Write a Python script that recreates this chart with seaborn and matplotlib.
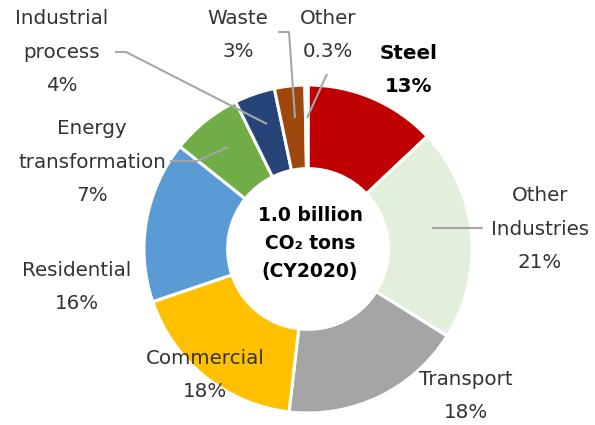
import matplotlib
matplotlib.use("Agg")
import matplotlib.pyplot as plt
import seaborn as sns

# Japan CO2 emissions by sector, CY2020 (share of 1.0 billion tons)
sectors = ["Steel", "Other\nIndustries", "Transport", "Commercial", "Residential",
           "Energy\ntransformation", "Industrial\nprocess", "Waste", "Other"]
shares = [13, 21, 18, 18, 16, 7, 4, 3, 0.3]
share_labels = ["13%", "21%", "18%", "18%", "16%", "7%", "4%", "3%", "0.3%"]
colors = ["#C00000", "#E2EFDA", "#A5A5A5", "#FFC000", "#5B9BD5",
          "#70AD47", "#264478", "#9E480E", "#7F7F7F"]

sns.set_theme(style="white")
plt.rcParams["font.family"] = ["DejaVu Sans"]

W, H = 595, 425
cx, cy = 308, 249          # donut centre in pixels (from top-left)
R, ring = 164, 0.51        # outer radius (px) and ring width fraction

fig = plt.figure(figsize=(W / 100, H / 100), dpi=100)
ax = fig.add_axes([0, 0, 1, 1])

ax.pie(shares, colors=sns.color_palette(colors), startangle=90, counterclock=False,
       radius=R, wedgeprops=dict(width=R * ring, edgecolor="white", linewidth=2.2))

ax.set_xlim(-cx, W - cx)
ax.set_ylim(-(H - cy), cy)
ax.set_aspect("equal")
ax.axis("off")

def P(x, y):
    return x - cx, cy - y

txt = dict(fontsize=14.3, color="#333333", ha="center", va="center", linespacing=1.95)
label_pos = {
    "Steel": (409, 70),
    "Other\nIndustries": (540, 229),
    "Transport": (466, 396),
    "Commercial": (205, 375),
    "Residential": (77, 287),
    "Energy\ntransformation": (92, 162),
    "Industrial\nprocess": (62, 52),
    "Waste": (238, 35),
    "Other": (328, 35),
}
for name, pct in zip(sectors, share_labels):
    x, y = label_pos[name]
    kw = dict(txt)
    if name == "Steel":
        kw.update(fontweight="bold", color="black")
    ax.text(*P(x, y), f"{name}\n{pct}", **kw)

# leader lines
leaders = [
    [(115, 52), (126, 52), (267, 124)],
    [(170, 161), (197, 161), (228, 147)],
    [(278, 32), (289, 32), (295, 118)],
    [(327, 74), (307, 118)],
    [(432, 228), (483, 228)],
]
for pts in leaders:
    xs, ys = zip(*[P(*p) for p in pts])
    ax.plot(xs, ys, color="#A6A6A6", lw=1.5, solid_capstyle="butt")

ax.text(*P(310, 243), "1.0 billion\nCO\u2082 tons\n(CY2020)", fontsize=13.5,
        fontweight="bold", color="black", ha="center", va="center", linespacing=1.6)

fig.savefig("out.png", dpi=100)
